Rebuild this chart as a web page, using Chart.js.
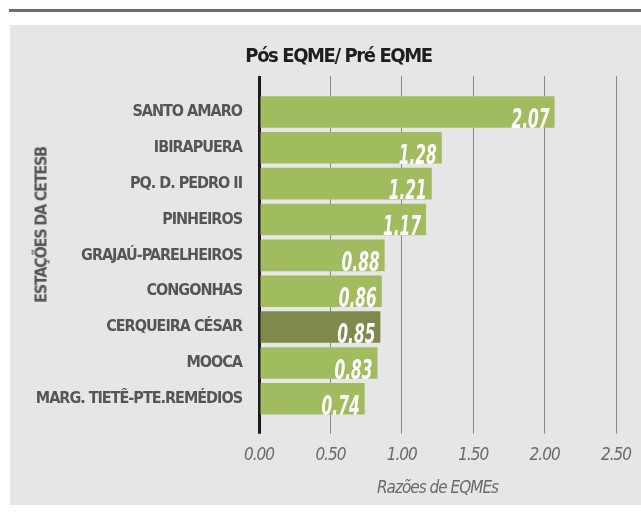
<!DOCTYPE html>
<html>
<head>
<meta charset="utf-8">
<script src="https://cdn.jsdelivr.net/npm/chart.js@4/dist/chart.umd.min.js"></script>
<style>
  html, body { margin: 0; padding: 0; background: #ffffff; }
  body { width: 641px; height: 513px; position: relative; overflow: hidden; }
  #topline { position: absolute; left: 9px; top: 9px; width: 632px; height: 3px; background: #6e6e6e; }
  #panel { position: absolute; left: 10px; top: 25px; width: 631px; height: 480px; background: #e6e6e8; }
  #chart { position: absolute; left: 0; top: 0; }
  #title {
    position: absolute; left: 338.5px; top: 54.5px;
    transform: translate(-50%, -50%);
    font: bold 20px 'DejaVu Sans Condensed', 'DejaVu Sans', sans-serif;
    color: #1e1e1e; white-space: nowrap; letter-spacing: -1.4px;
  }
  #ytitle {
    position: absolute; left: 40.5px; top: 224.5px;
    transform: translate(-50%, -50%) rotate(-90deg);
    font: bold 16px 'DejaVu Sans Condensed', 'DejaVu Sans', sans-serif;
    color: #555555; white-space: nowrap; letter-spacing: -1.2px;
  }
</style>
</head>
<body>
<div id="topline"></div>
<div id="panel"><canvas id="chart" width="631" height="480"></canvas></div>
<div id="title">Pós EQME/ Pré EQME</div>
<div id="ytitle">ESTAÇÕES DA CETESB</div>
<script>
const categories = ['SANTO AMARO', 'IBIRAPUERA', 'PQ. D. PEDRO II', 'PINHEIROS', 'GRAJAÚ-PARELHEIROS', 'CONGONHAS', 'CERQUEIRA CÉSAR', 'MOOCA', 'MARG. TIETÊ-PTE.REMÉDIOS'];
const ratios = [2.07, 1.28, 1.21, 1.17, 0.88, 0.86, 0.85, 0.83, 0.74];
const highlighted = 'CERQUEIRA CÉSAR';
const xTicks = [0, 0.5, 1.0, 1.5, 2.0, 2.5];
const xTitle = 'Razões de EQMEs';

const FONT = "'DejaVu Sans Condensed', 'DejaVu Sans', sans-serif";
const GREEN = '#a0bc5f';
const DARK = '#7e894b';

const condensedText = {
  id: 'condensedText',
  beforeInit(chart) { chart.ctx.letterSpacing = '-1px'; },
  beforeDraw(chart) { chart.ctx.letterSpacing = '-1px'; }
};

const valueLabels = {
  id: 'valueLabels',
  afterDatasetsDraw(chart) {
    const ctx = chart.ctx;
    const meta = chart.getDatasetMeta(0);
    ctx.save();
    ctx.letterSpacing = '0px';
    ctx.fillStyle = '#ffffff';
    ctx.font = 'italic bold 26px ' + FONT;
    ctx.textAlign = 'right';
    ctx.textBaseline = 'alphabetic';
    meta.data.forEach((bar, i) => {
      const txt = chart.data.datasets[0].data[i].toFixed(2);
      const w = ctx.measureText(txt).width * 0.66;
      ctx.fillText(txt, bar.x - 5, bar.y + bar.height / 2, w);
    });
    ctx.restore();
  }
};

const gridColor = c => (c.tick && c.tick.value === 0) ? '#1c1c1c' : '#8a8a8a';
const gridWidth = c => (c.tick && c.tick.value === 0) ? 3 : 1;
const noSidePadding = s => { s.paddingLeft = 0; s.paddingRight = 0; };

new Chart(document.getElementById('chart'), {
  type: 'bar',
  data: {
    labels: categories,
    datasets: [{
      data: ratios,
      backgroundColor: categories.map(c => c === highlighted ? DARK : GREEN),
      borderWidth: 0,
      barPercentage: 0.88,
      categoryPercentage: 1.0
    }]
  },
  options: {
    indexAxis: 'y',
    responsive: false,
    animation: false,
    devicePixelRatio: 1,
    layout: { padding: { left: 20, right: 25, top: 51, bottom: 0 } },
    plugins: {
      legend: { display: false },
      tooltip: { enabled: false },
      title: { display: false }
    },
    scales: {
      x: {
        type: 'linear',
        min: 0, max: 2.5,
        afterBuildTicks: s => { s.ticks = xTicks.map(v => ({ value: v })); },
        afterFit: noSidePadding,
        ticks: {
          color: '#6a6a6a',
          font: { family: FONT, size: 17, style: 'italic', lineHeight: 1.2 },
          padding: 11.5,
          callback: v => Number(v).toFixed(2)
        },
        grid: { color: gridColor, lineWidth: gridWidth, tickLength: 17, drawTicks: true },
        border: { display: false },
        title: {
          display: true,
          text: xTitle,
          color: '#6a6a6a',
          font: { family: FONT, size: 17, style: 'italic', lineHeight: 1.2 },
          padding: { top: 1.5, bottom: 6 }
        }
      },
      xTop: {
        type: 'linear',
        position: 'top',
        axis: 'x',
        min: 0, max: 2.5,
        afterBuildTicks: s => { s.ticks = xTicks.map(v => ({ value: v })); },
        afterFit: noSidePadding,
        ticks: { display: false },
        grid: { color: gridColor, lineWidth: gridWidth, tickLength: 18, drawOnChartArea: false, drawTicks: true },
        border: { display: false }
      },
      y: {
        afterFit: s => { s.width = 229; },
        ticks: {
          color: '#555555',
          font: { family: FONT, size: 16, weight: 'bold' },
          padding: 9
        },
        grid: { display: false },
        border: { display: false }
      }
    }
  },
  plugins: [condensedText, valueLabels]
});
</script>
</body>
</html>
